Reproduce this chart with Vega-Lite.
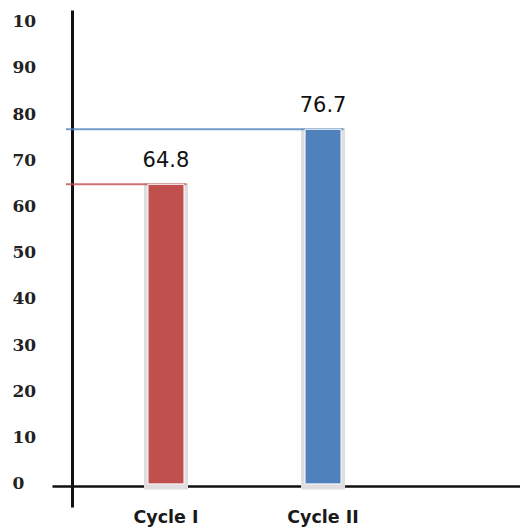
{
  "$schema": "https://vega.github.io/schema/vega-lite/v6.json",
  "width": 468,
  "height": 497,
  "autosize": "none",
  "padding": {"left": 52, "top": 10, "right": 0, "bottom": 21},
  "background": "white",
  "config": {"view": {"stroke": null}},
  "data": {"values": [
    {"cycle": "Cycle I", "value": 64.8},
    {"cycle": "Cycle II", "value": 76.7}
  ]},
  "encoding": {
    "x": {
      "field": "cycle", "type": "nominal",
      "scale": {"domain": ["Cycle I", "Cycle II"], "paddingInner": 0, "paddingOuter": 0.49, "align": 0.2305},
      "axis": {
        "title": null, "labelAngle": 0, "ticks": false, "tickSize": 0, "labelPadding": 22,
        "labelBaseline": "top", "offset": -21, "domainColor": "#111", "domainWidth": 2.5,
        "labelFont": "DejaVu Sans", "labelFontWeight": "bold", "labelFontSize": 17.5,
        "labelColor": "#1a1a1a", "grid": false
      }
    },
    "y": {
      "field": "value", "type": "quantitative",
      "scale": {"domain": [-5, 102.5], "nice": false, "zero": false},
      "axis": {
        "title": null, "values": [0, 10, 20, 30, 40, 50, 60, 70, 80, 90, 100],
        "labelExpr": "datum.value == 100 ? '10' : datum.label",
        "ticks": false, "tickSize": 0, "labelPadding": 60, "labelAlign": "left",
        "labelBaseline": "middle", "offset": -20, "domainColor": "#111", "domainWidth": 3,
        "labelFont": "DejaVu Serif", "labelFontWeight": "bold", "labelFontSize": 17,
        "labelColor": "#222", "grid": false, "labelBound": false, "labelFlush": false, "labelOverlap": false
      }
    }
  },
  "layer": [
    {
      "mark": {"type": "bar", "size": 42, "color": "#e0dde1", "stroke": "#e0dde1", "strokeWidth": 2},
      "encoding": {"y2": {"datum": -1}}
    },
    {
      "mark": {"type": "rule", "strokeWidth": 2, "opacity": 0.8},
      "encoding": {
        "x": {"datum": "Cycle I", "bandPosition": -0.137},
        "x2": {"field": "cycle", "bandPosition": 0.63},
        "color": {"field": "cycle", "type": "nominal", "scale": {"range": ["#C0504D", "#4F81BD"]}, "legend": null}
      }
    },
    {
      "mark": {"type": "bar", "size": 36, "stroke": "white", "strokeWidth": 1},
      "encoding": {
        "y2": {"datum": 0},
        "color": {"field": "cycle", "type": "nominal", "scale": {"range": ["#C0504D", "#4F81BD"]}, "legend": null}
      }
    },
    {
      "mark": {"type": "text", "font": "DejaVu Sans", "fontSize": 21, "dy": -17, "baseline": "alphabetic", "color": "#111"},
      "encoding": {"text": {"field": "value", "type": "quantitative", "format": ".1f"}}
    }
  ]
}
